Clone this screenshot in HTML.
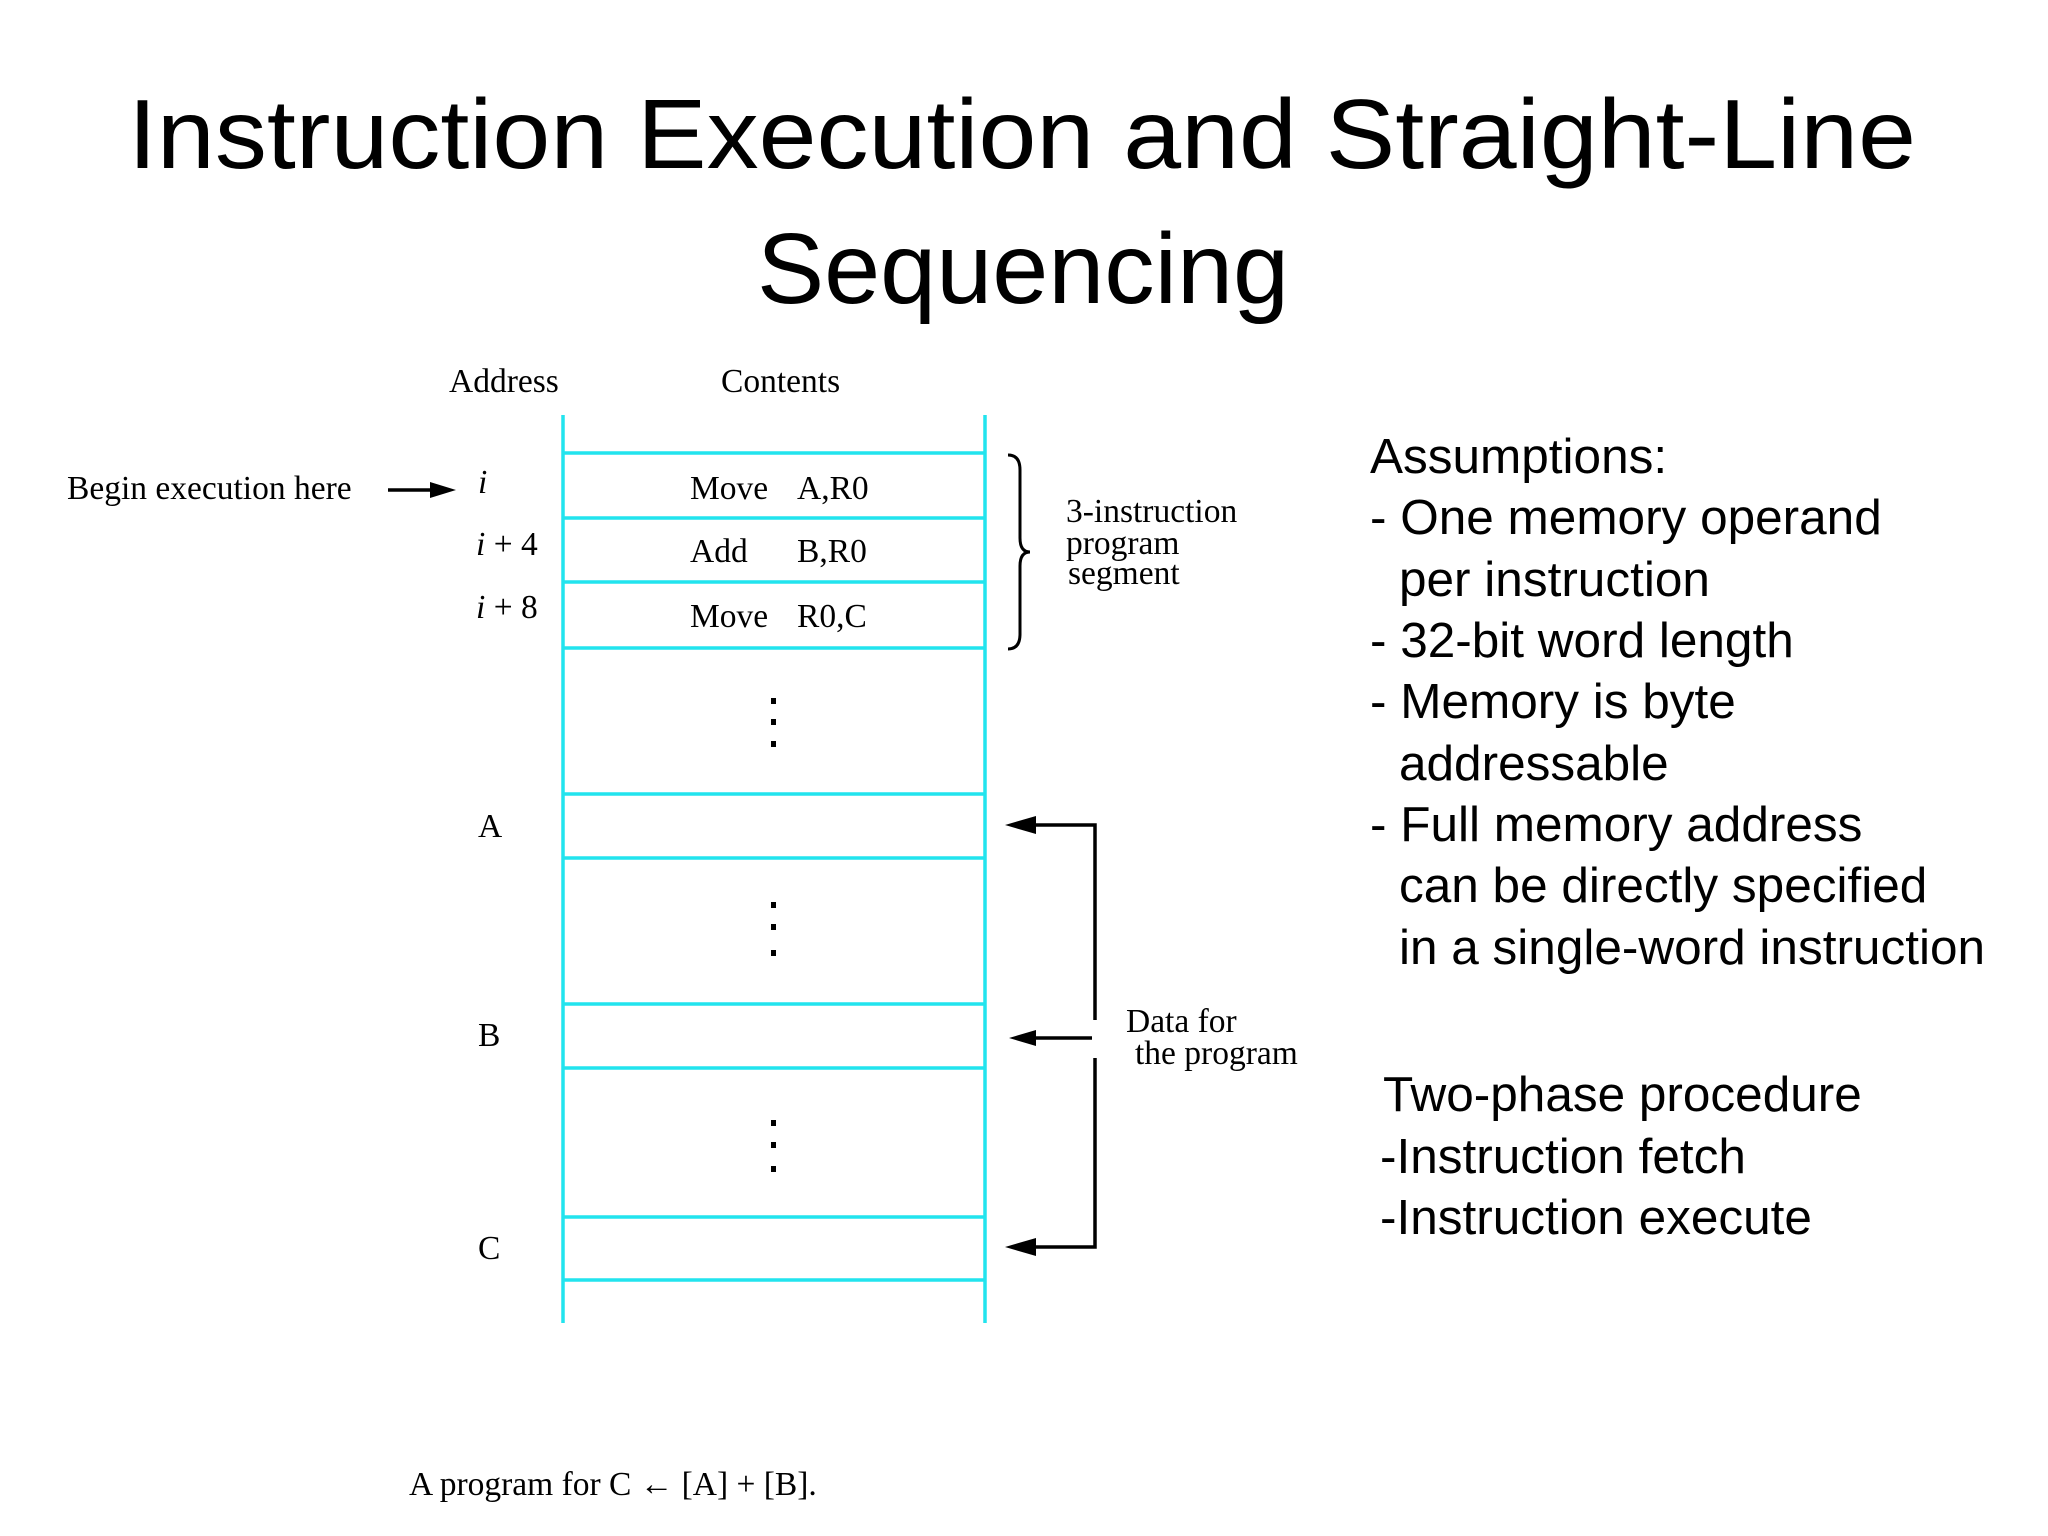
<!DOCTYPE html>
<html><head><meta charset="utf-8"><style>
html,body{margin:0;padding:0;background:#fff;}
svg{display:block}
.t{font-family:"Liberation Sans",Arial,sans-serif;fill:#000}
.s{font-family:"Liberation Serif","Times New Roman",serif;fill:#000;font-size:33.5px}
</style></head><body>
<svg width="2048" height="1536" viewBox="0 0 2048 1536" xmlns="http://www.w3.org/2000/svg">
<text class="t" x="1022" y="168" font-size="98" text-anchor="middle" textLength="1788" lengthAdjust="spacingAndGlyphs">Instruction Execution and Straight-Line</text>
<text class="t" x="1023" y="303" font-size="100" text-anchor="middle" textLength="532" lengthAdjust="spacingAndGlyphs">Sequencing</text>

<text class="s" x="449" y="392">Address</text>
<text class="s" x="721" y="392">Contents</text>
<text class="s" x="67" y="499">Begin execution here</text>
<line x1="388" y1="490" x2="433" y2="490" stroke="#000" stroke-width="3.5"/>
<polygon points="456,490 430,482 430,498" fill="#000"/>

<g stroke="#22e4ee" stroke-width="3.5">
<line x1="563" y1="415" x2="563" y2="1323"/>
<line x1="985" y1="415" x2="985" y2="1323"/>
<line x1="563" y1="453" x2="985" y2="453"/>
<line x1="563" y1="518" x2="985" y2="518"/>
<line x1="563" y1="582" x2="985" y2="582"/>
<line x1="563" y1="648" x2="985" y2="648"/>
<line x1="563" y1="794" x2="985" y2="794"/>
<line x1="563" y1="858" x2="985" y2="858"/>
<line x1="563" y1="1004" x2="985" y2="1004"/>
<line x1="563" y1="1068" x2="985" y2="1068"/>
<line x1="563" y1="1217" x2="985" y2="1217"/>
<line x1="563" y1="1280" x2="985" y2="1280"/>
</g>

<text class="s" x="478" y="493" font-style="italic">i</text>
<text class="s" x="476" y="555"><tspan font-style="italic">i</tspan> + 4</text>
<text class="s" x="476" y="618"><tspan font-style="italic">i</tspan> + 8</text>
<text class="s" x="478" y="837">A</text>
<text class="s" x="478" y="1046">B</text>
<text class="s" x="478" y="1259">C</text>

<text class="s" x="690" y="499">Move</text><text class="s" x="797" y="499">A,R0</text>
<text class="s" x="690" y="562">Add</text><text class="s" x="797" y="562">B,R0</text>
<text class="s" x="690" y="627">Move</text><text class="s" x="797" y="627">R0,C</text>

<g fill="#000">
<rect x="771" y="698" width="5" height="6"/><rect x="771" y="719" width="5" height="6"/><rect x="771" y="741" width="5" height="6"/>
<rect x="771" y="902" width="5" height="6"/><rect x="771" y="924" width="5" height="6"/><rect x="771" y="950" width="5" height="6"/>
<rect x="771" y="1120" width="5" height="6"/><rect x="771" y="1142" width="5" height="6"/><rect x="771" y="1166" width="5" height="6"/>
</g>

<path d="M1008,455 Q1020,455 1020,470 L1020,538 Q1020,552 1030,552 Q1020,552 1020,566 L1020,634 Q1020,649 1008,649" fill="none" stroke="#000" stroke-width="3"/>
<text class="s" x="1066" y="522" font-size="35">3-instruction</text>
<text class="s" x="1066" y="554" font-size="35">program</text>
<text class="s" x="1068" y="584" font-size="35">segment</text>

<g stroke="#000" stroke-width="3.5" fill="none">
<polyline points="1030,825 1095,825 1095,1020"/>
<polyline points="1095,1058 1095,1247 1030,1247"/>
<line x1="1030" y1="1038" x2="1092" y2="1038"/>
</g>
<g fill="#000">
<polygon points="1005,825 1036,816 1036,834"/>
<polygon points="1009,1038 1036,1030 1036,1046"/>
<polygon points="1005,1247 1036,1238 1036,1256"/>
</g>
<text class="s" x="1126" y="1032">Data for</text>
<text class="s" x="1135" y="1064">the program</text>

<text class="s" x="409" y="1495" font-size="36">A program for C ← [A] + [B].</text>

<g class="t" font-size="49.5">
<text x="1370" y="473">Assumptions:</text>
<text x="1370" y="534">- One memory operand</text>
<text x="1399" y="596">per instruction</text>
<text x="1370" y="657">- 32-bit word length</text>
<text x="1370" y="718">- Memory is byte</text>
<text x="1399" y="780">addressable</text>
<text x="1370" y="841">- Full memory address</text>
<text x="1399" y="902">can be directly specified</text>
<text x="1399" y="964">in a single-word instruction</text>
<text x="1383" y="1111">Two-phase procedure</text>
<text x="1380" y="1173">-Instruction fetch</text>
<text x="1380" y="1234">-Instruction execute</text>
</g>
</svg>
</body></html>
